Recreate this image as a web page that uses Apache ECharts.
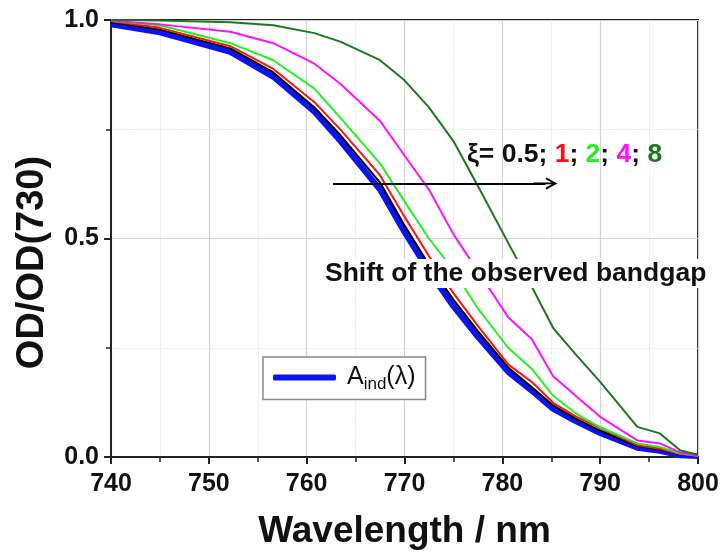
<!DOCTYPE html>
<html><head><meta charset="utf-8">
<script src="https://cdn.jsdelivr.net/npm/echarts@6/dist/echarts.min.js"></script>
<style>html,body{margin:0;padding:0;background:#fff}#c{width:723px;height:559px}</style>
</head><body><div id="c"></div>
<script>
const wavelengths = [740,745,752.2,756.6,760.8,763.5,767.5,770,772.5,775,777.5,780.6,783,785.2,787.5,790,793.8,796.1,798.2,800];
const aInd = [0.990,0.972,0.927,0.870,0.790,0.722,0.612,0.515,0.425,0.345,0.275,0.195,0.152,0.110,0.082,0.055,0.021,0.014,0.004,0.002];
const xi05 = [0.995,0.978,0.935,0.880,0.800,0.735,0.628,0.530,0.440,0.360,0.288,0.205,0.160,0.118,0.088,0.060,0.025,0.017,0.006,0.002];
const xi1  = [0.997,0.982,0.940,0.888,0.812,0.748,0.645,0.550,0.460,0.375,0.300,0.212,0.172,0.124,0.093,0.066,0.027,0.019,0.007,0.002];
const xi2  = [0.998,0.988,0.947,0.908,0.843,0.775,0.672,0.585,0.500,0.428,0.340,0.250,0.202,0.140,0.100,0.068,0.031,0.023,0.008,0.003];
const xi4  = [0.998,0.990,0.973,0.947,0.900,0.853,0.769,0.690,0.612,0.510,0.425,0.320,0.270,0.185,0.140,0.092,0.038,0.031,0.010,0.003];
const xi8  = [1.000,0.999,0.995,0.988,0.970,0.950,0.908,0.862,0.800,0.723,0.620,0.490,0.390,0.295,0.235,0.172,0.069,0.054,0.015,0.005];
const seriesNames = ['A_ind(λ)','ξ=0.5','ξ=1','ξ=2','ξ=4','ξ=8'];
const seriesColors = ['#0a14f0','#000000','#ff1010','#22f022','#ff10ff','#1a7a1a'];
const arrowStart = [762.7, 0.626];
const arrowEnd = [784.4, 0.626];
const annotationXi = ['ξ= 0.5; ','1','; ','2','; ','4','; ','8'];
const annotationShift = 'Shift of the observed bandgap';

const FONT = '"Liberation Sans", Arial, sans-serif';
const allData = [aInd, xi05, xi1, xi2, xi4, xi8];
const chart = echarts.init(document.getElementById('c'), null, {renderer:'canvas'});

const series = allData.map((vals, i) => ({
  name: seriesNames[i],
  type: 'line',
  data: wavelengths.map((w, j) => [w, vals[j]]),
  showSymbol: false,
  symbol: 'none',
  smooth: false,
  lineStyle: {color: seriesColors[i], width: i === 0 ? 6 : 2},
  itemStyle: {color: seriesColors[i]},
  z: 2 + i,
  silent: true
}));
series[1].markLine = {
  silent: true,
  symbol: ['none', 'path://M6,0 L12,11 L10.4,12 L6.9,5.5 L6.9,24 L5.1,24 L5.1,5.5 L1.6,12 L0,11 Z'],
  symbolSize: [12, 24],
  label: {show: false},
  lineStyle: {color: '#000', width: 2, type: 'solid'},
  itemStyle: {color: '#000'},
  data: [[{coord: arrowStart}, {coord: arrowEnd}]],
  z: 20
};

const XI_SIZE = 26.5;
const rich = {
  k: {fill: '#111', fontSize: XI_SIZE, fontWeight: 'bold', fontFamily: FONT},
  r: {fill: '#ff1010', fontSize: XI_SIZE, fontWeight: 'bold', fontFamily: FONT},
  g: {fill: '#22f022', fontSize: XI_SIZE, fontWeight: 'bold', fontFamily: FONT},
  m: {fill: '#ff10ff', fontSize: XI_SIZE, fontWeight: 'bold', fontFamily: FONT},
  d: {fill: '#1a7a1a', fontSize: XI_SIZE, fontWeight: 'bold', fontFamily: FONT}
};
const styleKeys = ['k','r','k','g','k','m','k','d'];
const xiText = annotationXi.map((t, i) => '{' + styleKeys[i] + '|' + t + '}').join('');

chart.setOption({
  backgroundColor: '#fff',
  animation: false,
  grid: {left: 111, right: 25, top: 20, bottom: 102, show: true, borderColor: '#222', borderWidth: 2, backgroundColor: 'transparent'},
  legend: {
    data: [{name: seriesNames[0], icon: 'roundRect'}],
    left: 263, top: 357,
    itemWidth: 63, itemHeight: 6,
    padding: [8, 10, 7, 10],
    backgroundColor: '#fff',
    borderColor: '#888', borderWidth: 1.5, borderRadius: 0,
    selectedMode: false,
    formatter: () => '{a|A}{s|ind}{a|(λ)}',
    textStyle: {
      fontFamily: FONT, color: '#111',
      rich: {
        a: {fontSize: 25, fontFamily: FONT, color: '#111', lineHeight: 30},
        s: {fontSize: 17, fontFamily: FONT, color: '#111', lineHeight: 17, verticalAlign: 'bottom', padding: [10,0,0,0]}
      },
      padding: [0,0,0,6]
    }
  },
  xAxis: {
    type: 'value', min: 740, max: 800, interval: 10,
    name: 'Wavelength / nm', nameLocation: 'middle', nameGap: 56,
    nameTextStyle: {fontFamily: FONT, fontSize: 37, fontWeight: 'bold', color: '#111'},
    axisLine: {show: true, lineStyle: {color: '#222', width: 2}},
    axisTick: {show: true, inside: false, length: 7, lineStyle: {color: '#222', width: 2}},
    minorTick: {show: true, splitNumber: 2, length: 5, lineStyle: {color: '#222', width: 1.5}},
    axisLabel: {fontFamily: FONT, fontSize: 25, fontWeight: 'bold', color: '#111', margin: 15},
    splitLine: {show: true, lineStyle: {color: '#d2d2d2', width: 1.2}},
    minorSplitLine: {show: true, lineStyle: {color: '#e4e4e4', width: 1.2, type: 'dotted'}}
  },
  yAxis: {
    type: 'value', min: 0, max: 1, interval: 0.5,
    name: 'OD/OD(730)', nameLocation: 'middle', nameGap: 59, nameRotate: 90,
    nameTextStyle: {fontFamily: FONT, fontSize: 38, fontWeight: 'bold', color: '#111', padding: [0, 48, 0, 0]},
    axisLine: {show: true, lineStyle: {color: '#222', width: 2}},
    axisTick: {show: true, inside: false, length: 7, lineStyle: {color: '#222', width: 2}},
    minorTick: {show: true, splitNumber: 2, length: 5, lineStyle: {color: '#222', width: 1.5}},
    axisLabel: {fontFamily: FONT, fontSize: 25, fontWeight: 'bold', color: '#111', margin: 12, formatter: v => v.toFixed(1)},
    splitLine: {show: true, lineStyle: {color: '#d2d2d2', width: 1.2}},
    minorSplitLine: {show: true, lineStyle: {color: '#e4e4e4', width: 1.2, type: 'dotted'}}
  },
  graphic: [
    {type: 'rect', shape: {x: 322, y: 259, width: 395, height: 29}, style: {fill: '#fff'}, z: 50, silent: true},
    {type: 'text', x: 325, y: 274, z: 51, silent: true,
     style: {text: annotationShift, fontFamily: FONT, fontSize: 26.5, fontWeight: 'bold', fill: '#111', verticalAlign: 'middle', align: 'left'}},
    {type: 'text', x: 467, y: 155, z: 51, silent: true,
     style: {text: xiText, rich: rich, fontFamily: FONT, fontSize: XI_SIZE, fontWeight: 'bold', verticalAlign: 'middle', align: 'left'}}
  ],
  series: series
});
</script>
</body></html>
